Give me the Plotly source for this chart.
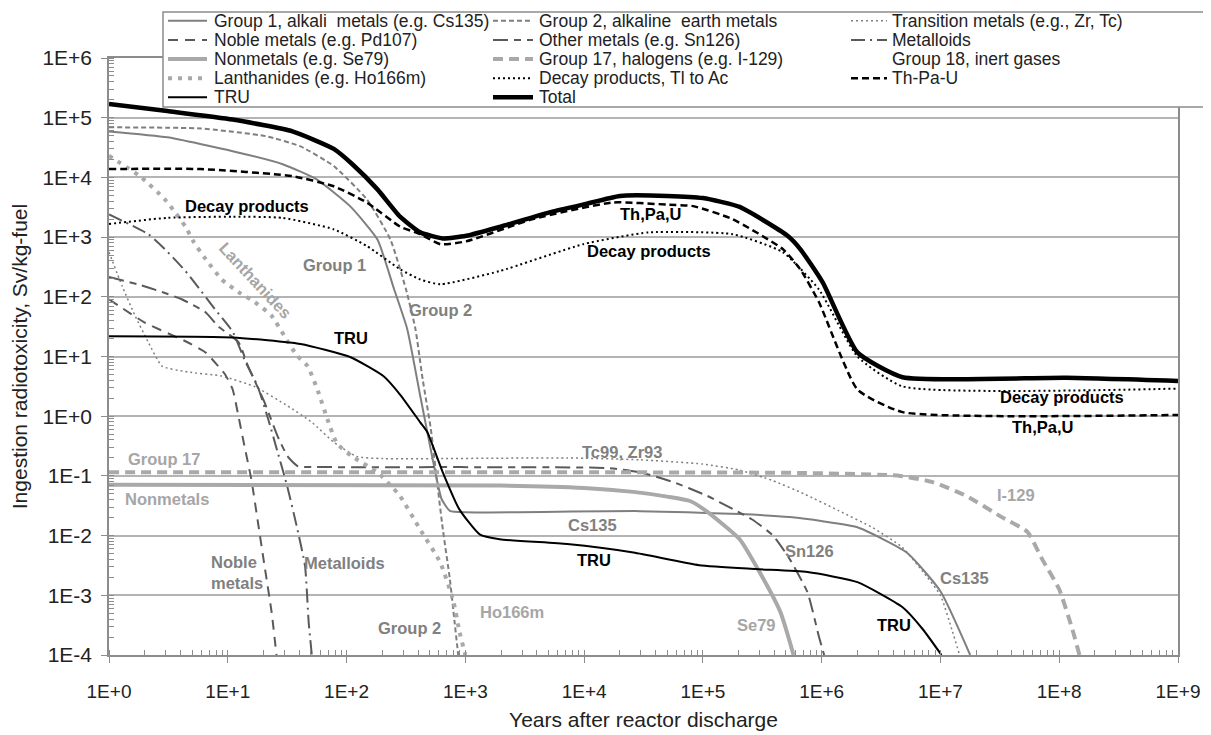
import plotly.graph_objects as go

# ---------------- data (years, Sv/kg-fuel) ----------------
g1_x = [1, 3.1, 11, 29, 56, 107, 182, 251, 324, 417, 537, 631, 741, 1020, 2.95e4, 2.04e5, 5.4e5, 1.02e6, 2.0e6, 5.2e6, 1.0e7, 1.78e7]
g1_y = [5.9e4, 4.7e4, 2.75e4, 1.66e4, 9.3e3, 3.3e3, 910, 135, 29, 2.2, 0.17, 0.041, 0.026, 0.0245, 0.0257, 0.0229, 0.0204, 0.0174, 0.0138, 0.0052, 0.00117, 1e-4]

g2_x = [1, 5.9, 21, 41, 78, 148, 234, 316, 380, 437, 513, 575, 646, 741, 813, 871]
g2_y = [6.9e4, 6.6e4, 4.9e4, 3.3e4, 1.55e4, 4.3e3, 910, 135, 29, 4.2, 0.6, 0.087, 0.0129, 0.00186, 3.5e-4, 1e-4]

tm_x = [1, 1.29, 1.66, 2.14, 2.8, 4.6, 8.9, 17, 32, 51, 79, 123, 200, 7200, 2.95e4, 1e5, 2e5, 3.9e5, 7.1e5, 1.4e6, 2.7e6, 4.8e6, 7.1e6, 1e7, 1.26e7, 1.45e7]
tm_y = [560, 151, 48, 17.4, 6.9, 5.5, 4.7, 3.1, 1.48, 0.79, 0.36, 0.21, 0.195, 0.2, 0.186, 0.158, 0.126, 0.083, 0.05, 0.026, 0.0135, 0.0063, 0.0025, 0.001, 2.5e-4, 1e-4]

noble_x = [1, 2.0, 4.4, 6.5, 8.3, 9.5, 11, 12.3, 13.8, 15.8, 17.8, 20.4, 23.4, 25.7]
noble_y = [91, 37, 18, 11.7, 6.9, 5.0, 2.8, 1.0, 0.32, 0.087, 0.0186, 0.0031, 5.2e-4, 1e-4]

other_x = [1, 1.74, 2.8, 4.1, 6.5, 8.3, 12.3, 14.8, 20.4, 26.3, 32, 39, 51, 1.6e4, 2.95e4, 5.6e4, 1.07e5, 1.78e5, 2.6e5, 3.9e5, 5.4e5, 7.6e5, 9.5e5, 1.05e6]
other_y = [214, 162, 120, 91, 55, 32, 17.4, 6.9, 1.7, 0.46, 0.21, 0.145, 0.141, 0.135, 0.115, 0.079, 0.047, 0.028, 0.0186, 0.01, 0.004, 0.00112, 2e-4, 1e-4]

metal_x = [1, 2.14, 2.95, 4.4, 6.0, 7.8, 11, 13.8, 17.8, 21.9, 26.3, 31.6, 38, 44.7, 48, 51]
metal_y = [2.4e3, 1.12e3, 630, 270, 123, 62, 26, 8.9, 3.2, 0.89, 0.25, 0.068, 0.0145, 0.0031, 3.5e-4, 1e-4]

nonm_x = [1, 2000, 1e4, 2.6e4, 5e4, 7.8e4, 1.07e5, 2.04e5, 3.0e5, 4.5e5, 5.8e5]
nonm_y = [0.071, 0.069, 0.063, 0.054, 0.045, 0.038, 0.0257, 0.0087, 0.00245, 5.2e-4, 1e-4]

g17_x = [1, 6.6e5, 4.6e6, 8.7e6, 1.66e7, 3.2e7, 5.4e7, 7.2e7, 1e8, 1.29e8, 1.48e8]
g17_y = [0.115, 0.112, 0.1, 0.078, 0.046, 0.021, 0.0115, 0.004, 0.00126, 2.7e-4, 1e-4]

g18_x = []
g18_y = []

lan_x = [1, 1.82, 2.95, 3.6, 4.4, 5.2, 6.5, 8.9, 12.3, 17, 23.4, 30, 38, 47, 58, 69, 83, 112, 182, 245, 282, 417, 617, 794, 891, 1000]
lan_y = [2.3e4, 1.05e4, 4.3e3, 2.6e3, 1.5e3, 810, 430, 195, 120, 81, 48, 22, 10.5, 6.9, 2.5, 0.89, 0.35, 0.21, 0.115, 0.063, 0.046, 0.0126, 0.0035, 7.9e-4, 2.5e-4, 1e-4]

decay_x = [1, 3.1, 11, 29, 78, 148, 282, 417, 617, 1950, 9800, 3.5e4, 1.78e5, 4.7e5, 9.5e5, 2e6, 4.8e6, 1e9]
decay_y = [1.66e3, 2.1e3, 2.2e3, 2.1e3, 1.35e3, 710, 290, 195, 162, 270, 760, 1.2e3, 1.12e3, 560, 132, 10, 3.16, 2.9]

thpau_x = [1, 5.9, 35, 78, 148, 282, 417, 617, 1020, 3700, 1.74e4, 5e4, 8.3e4, 1.78e5, 4.7e5, 6.6e5, 9.5e5, 2e6, 4.8e6, 1e9]
thpau_y = [1.38e4, 1.38e4, 1.05e4, 7.1e3, 3.8e3, 1.5e3, 1.12e3, 760, 850, 2.0e3, 3.8e3, 3.5e3, 3.3e3, 2.0e3, 630, 290, 81, 2.8, 1.17, 1.05]

tru_x = [1, 11, 41, 107, 204, 282, 417, 479, 646, 891, 1320, 1950, 7200, 2.6e4, 9.3e4, 2.8e5, 7.6e5, 2e6, 4.8e6, 7.1e6, 1.02e7]
tru_y = [21.9, 20.9, 16.2, 9.8, 4.7, 2.3, 0.79, 0.54, 0.115, 0.0275, 0.0105, 0.0087, 0.0072, 0.0052, 0.0032, 0.00275, 0.00245, 0.00166, 6.3e-4, 2.7e-4, 1e-4]

total_x = [1, 3.1, 11, 35, 78, 112, 182, 282, 417, 646, 1020, 1950, 5100, 9800, 2e4, 5e4, 1e5, 2.04e5, 5.1e5, 6.6e5, 1.02e6, 2e6, 4.8e6, 1.15e8, 1e9]
total_y = [1.7e5, 1.29e5, 9.3e4, 5.9e4, 3.0e4, 1.66e4, 6.3e3, 2.2e3, 1.2e3, 950, 1.05e3, 1.48e3, 2.6e3, 3.5e3, 4.9e3, 4.9e3, 4.5e3, 3.2e3, 1.07e3, 630, 174, 11.7, 4.5, 4.4, 3.9]

series_names = [
    "Group 1, alkali  metals (e.g. Cs135)", "Group 2, alkaline  earth metals", "Transition metals (e.g., Zr, Tc)",
    "Noble metals (e.g. Pd107)", "Other metals (e.g. Sn126)", "Metalloids",
    "Nonmetals (e.g. Se79)", "Group 17, halogens (e.g. I-129)", "Group 18, inert gases",
    "Lanthanides (e.g. Ho166m)", "Decay products, Tl to Ac", "Th-Pa-U",
    "TRU", "Total",
]
series_x = [g1_x, g2_x, tm_x, noble_x, other_x, metal_x, nonm_x, g17_x, g18_x, lan_x, decay_x, thpau_x, tru_x, total_x]
series_y = [g1_y, g2_y, tm_y, noble_y, other_y, metal_y, nonm_y, g17_y, g18_y, lan_y, decay_y, thpau_y, tru_y, total_y]

x_tick_vals = [1, 10, 100, 1e3, 1e4, 1e5, 1e6, 1e7, 1e8, 1e9]
x_tick_text = ["1E+0", "1E+1", "1E+2", "1E+3", "1E+4", "1E+5", "1E+6", "1E+7", "1E+8", "1E+9"]
y_tick_vals = [1e-4, 1e-3, 1e-2, 1e-1, 1, 10, 100, 1e3, 1e4, 1e5, 1e6]
y_tick_text = ["1E-4", "1E-3", "1E-2", "1E-1", "1E+0", "1E+1", "1E+2", "1E+3", "1E+4", "1E+5", "1E+6"]

# ---------------- styles ----------------
G = "#7f7f7f"   # medium gray
D = "#5a5a5a"   # dark gray
L = "#a9a9a9"   # light gray
K = "#000000"
styles = [
    dict(color=G, width=2, dash="solid"),
    dict(color=G, width=2, dash="5px,3px"),
    dict(color=G, width=1.5, dash="2px,3px"),
    dict(color=D, width=2, dash="10px,7px"),
    dict(color=D, width=2, dash="15px,6px,7px,6px"),
    dict(color=D, width=2, dash="14px,5px,2px,5px"),
    dict(color=L, width=4, dash="solid"),
    dict(color=L, width=4, dash="10px,6px"),
    None,
    dict(color=L, width=4, dash="4px,6px"),
    dict(color=K, width=2, dash="2px,3px"),
    dict(color=K, width=2.5, dash="7px,4px"),
    dict(color=K, width=2, dash="solid"),
    dict(color=K, width=4.5, dash="solid"),
]

FONT = "Liberation Sans, Arial, sans-serif"
fig = go.Figure()
for name, xs, ys, st in zip(series_names, series_x, series_y, styles):
    if st is None:
        continue
    line = dict(st)
    line.update(shape="spline", smoothing=0.5)
    fig.add_trace(go.Scatter(x=xs, y=ys, mode="lines", name=name, line=line, showlegend=False))

# ---------------- geometry ----------------
# the page adds an 8px body margin; the figure is sized so the plot area lands where the original's does
OFF = 8
W, H = 1203, 727
ML, MR, MT, MB = 101, 33, 50, 80
PW, PH = W - ML - MR, H - MT - MB
PLOT_LEFT = OFF + ML
PLOT_BOTTOM = OFF + H - MB


def px_x(p):
    return (p - PLOT_LEFT) / PW


def px_y(p):
    return (PLOT_BOTTOM - p) / PH


shapes = []
annotations = []

# legend box (drawn by hand to match the original's compact spacing)
shapes.append(dict(type="rect", xref="paper", yref="paper", x0=px_x(163), x1=px_x(1207), y0=px_y(107), y1=px_y(12),
                   line=dict(color="#8c8c8c", width=1.5), fillcolor="white", layer="above"))
col_pos = [(168, 207, 212), (493, 533, 537), (851, 887, 890)]
row_pos = [20.7, 39.9, 59.0, 78.2, 97.3]
for i, (name, st) in enumerate(zip(series_names, styles)):
    r, c = divmod(i, 3)
    s0, s1, tx = col_pos[c]
    yy = row_pos[r]
    if st is not None:
        shapes.append(dict(type="line", xref="paper", yref="paper", x0=px_x(s0), x1=px_x(s1), y0=px_y(yy), y1=px_y(yy),
                           line=st, layer="above"))
    annotations.append(dict(text=name, xref="paper", yref="paper", x=px_x(tx), y=px_y(yy), xanchor="left",
                            yanchor="middle", showarrow=False, font=dict(family=FONT, size=17.5, color="#222222")))

# in-plot labels: (text, log10 x, log10 y, colour, angle)
GM = "#808080"
GL = "#a6a6a6"
labels = [
    ("Decay products", 1.16, 3.52, K, 0),
    ("Group 1", 1.90, 2.53, GM, 0),
    ("Lanthanides", 1.23, 2.28, GL, 47),
    ("TRU", 2.04, 1.31, K, 0),
    ("Group 2", 2.79, 1.78, GM, 0),
    ("Th,Pa,U", 4.56, 3.39, K, 0),
    ("Decay products", 4.55, 2.77, K, 0),
    ("Group 17", 0.46, -0.72, GL, 0),
    ("Nonmetals", 0.49, -1.39, GL, 0),
    ("Metalloids", 1.98, -2.46, GM, 0),
    ("Tc99, Zr93", 4.32, -0.60, GM, 0),
    ("Cs135", 4.07, -1.82, GM, 0),
    ("TRU", 4.08, -2.41, K, 0),
    ("Ho166m", 3.39, -3.28, GL, 0),
    ("Se79", 5.45, -3.49, GL, 0),
    ("Sn126", 5.90, -2.26, GM, 0),
    ("Cs135", 7.20, -2.71, GM, 0),
    ("TRU", 6.61, -3.49, K, 0),
    ("I-129", 7.64, -1.32, GL, 0),
    ("Decay products", 8.02, 0.32, K, 0),
    ("Th,Pa,U", 7.86, -0.18, K, 0),
    ("Group 2", 2.53, -3.55, GM, 0),
]
for text, lx, ly, col, ang in labels:
    annotations.append(dict(text="<b>%s</b>" % text, x=lx, y=ly, xref="x", yref="y", showarrow=False,
                            textangle=ang, font=dict(family=FONT, size=16.5, color=col)))
annotations.append(dict(text="<b>Noble</b><br><b>metals</b>", x=0.84, y=-2.61, xref="x", yref="y", showarrow=False,
                        xanchor="left", align="left", font=dict(family=FONT, size=16.5, color=GM)))

axis_col = "#8c8c8c"
fig.update_layout(
    width=W, height=H,
    margin=dict(l=ML, r=MR, t=MT, b=MB),
    paper_bgcolor="white", plot_bgcolor="white",
    showlegend=False,
    shapes=shapes,
    annotations=annotations,
    font=dict(family=FONT, color="#222222"),
    xaxis=dict(
        type="log", range=[0, 9], tickmode="array", tickvals=x_tick_vals, ticktext=x_tick_text,
        ticks="outside", ticklen=6, tickcolor=axis_col, tickwidth=1,
        showline=True, linecolor=axis_col, linewidth=1.5, mirror=True,
        showgrid=False, zeroline=False, automargin=False,
        minor=dict(ticks="inside", ticklen=5, tickcolor=axis_col, dtick="D1", showgrid=False),
        tickfont=dict(family=FONT, size=19, color="#222222"), ticklabelstandoff=12,
        title=dict(text="Years after reactor discharge", font=dict(family=FONT, size=21, color="#222222"), standoff=12),
    ),
    yaxis=dict(
        type="log", range=[-4, 6], tickmode="array", tickvals=y_tick_vals, ticktext=y_tick_text,
        ticks="outside", ticklen=6, tickcolor=axis_col, tickwidth=1,
        showline=True, linecolor=axis_col, linewidth=1.5, mirror=True,
        showgrid=True, gridcolor="#b4b4b4", gridwidth=1.5, zeroline=False, automargin=False,
        minor=dict(ticks="inside", ticklen=5, tickcolor=axis_col, dtick="D1", showgrid=False),
        tickfont=dict(family=FONT, size=21, color="#222222"), ticklabelstandoff=5,
        title=dict(text="Ingestion radiotoxicity, Sv/kg-fuel", font=dict(family=FONT, size=21, color="#222222"), standoff=10),
    ),
)

fig.write_html("out.html")
